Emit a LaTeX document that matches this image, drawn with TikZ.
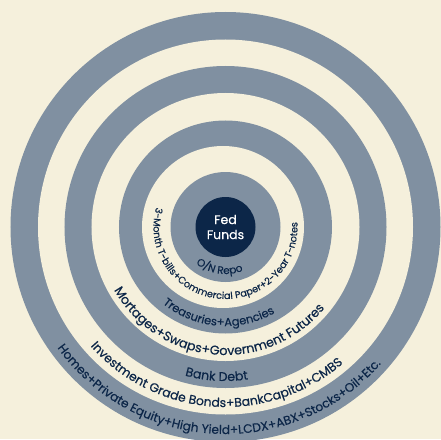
\documentclass[tikz,border=0pt]{standalone}
\usepackage{fontspec}
\setmainfont{Poppins}[FakeBold=0.35]
\usetikzlibrary{decorations.text}
\definecolor{paper}{HTML}{F5F0DC}
\definecolor{ring}{HTML}{8090A1}
\definecolor{navy}{HTML}{0C2648}
\tikzset{
  band/.style={fill=ring}, % the grey-blue rings
  gap/.style={fill=paper}, % the cream gaps between them
  core/.style={circle, fill=navy, text=white, minimum size=60pt, inner sep=0pt,
    align=center, font=\fontsize{12.5}{15}\selectfont}, % the centre disc
}
% text running round a ring: radius, middle angle, font size, text
\newcommand{\ringlabel}[4]{%
  \path[decorate, decoration={text along path, text align=center,
      text={|\fontsize{#3}{#3}\selectfont\color{navy}|#4}}]
    ({#2-150}:#1) arc[start angle={#2-150}, end angle={#2+150}, radius=#1];
}

\begin{document}
\begin{tikzpicture}[x=1pt, y=1pt]
  \useasboundingbox (-225.5,-212) rectangle (215.5,227);
  \fill[paper] (-225.5,-212) rectangle (215.5,227);

  % rings, outside in (the inner cream gap sits a little to the left)
  \foreach \r/\s/\dx in {215/band/0, 187.5/gap/0, 161/band/0, 134/gap/0,
                         106.5/band/0, 81/gap/-2.5, 55/band/0}
    \fill[\s] (\dx,0) circle[radius=\r];

  \node[core] (fed) at (0,0) {Fed\\Funds};

  \ringlabel{47}{261.5}{10.5}{O/N Repo}
  \ringlabel{72}{264}{9.7}{3-Month T-bills+Commercial Paper+2-Year T-notes}
  \ringlabel{99}{265.3}{11.5}{Treasuries+Agencies}
  \ringlabel{128}{265.1}{12.7}{Mortages+Swaps+Government Futures}
  \ringlabel{154}{266.6}{12.6}{Bank Debt}
  \ringlabel{180}{266.1}{12.4}{Investment Grade Bonds+BankCapital+CMBS}
  \ringlabel{207}{267.2}{12.2}{Homes+Private Equity+High Yield+LCDX+ABX+Stocks+Oil+Etc.}
\end{tikzpicture}
\end{document}
